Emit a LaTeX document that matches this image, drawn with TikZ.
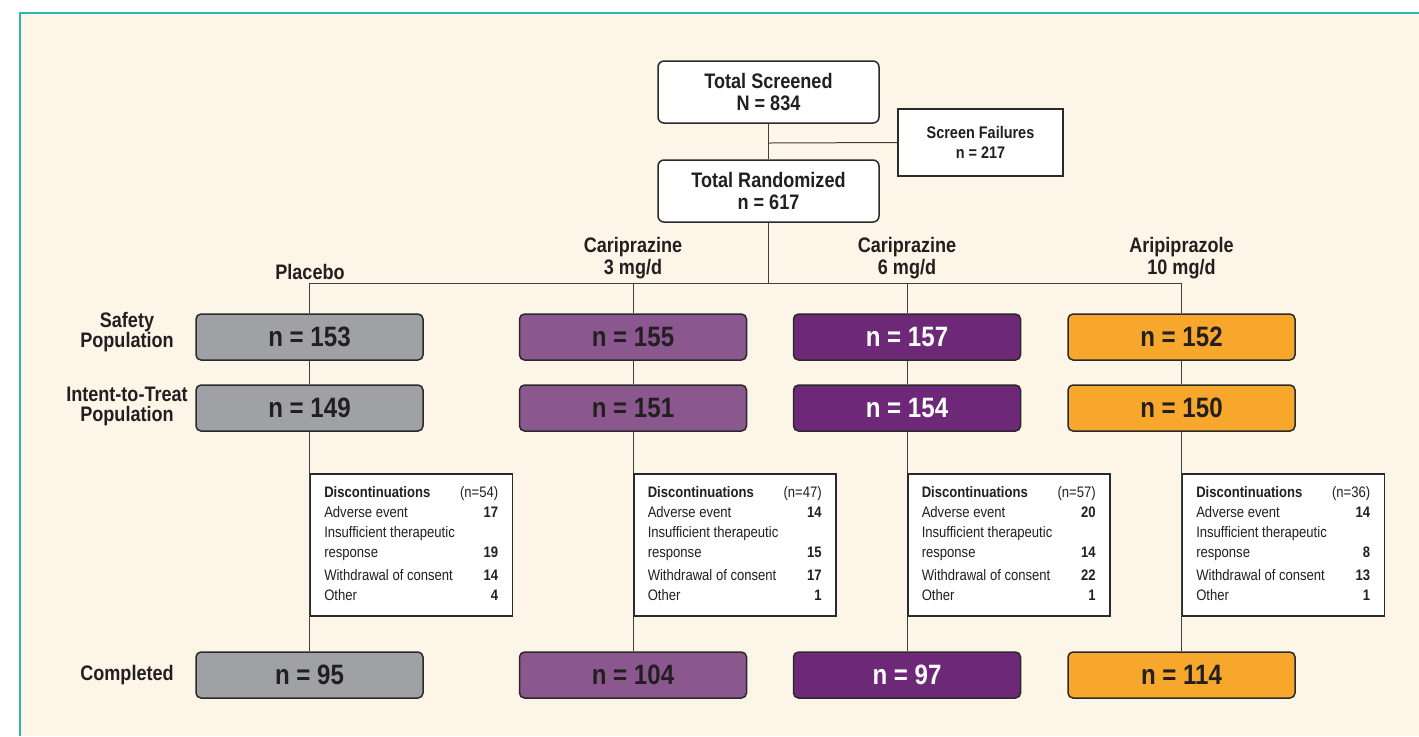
\documentclass[tikz,border=0pt]{standalone}
\usepackage{fontspec}
\setmainfont{Liberation Sans}[FakeStretch=0.86]
\definecolor{ink}{HTML}{231F20}
\definecolor{edge}{HTML}{2B2A2B}
\definecolor{cream}{HTML}{FDF5E8}
\definecolor{frameteal}{HTML}{2BB7B3}
\definecolor{pgray}{HTML}{A0A1A4}
\definecolor{lpurple}{HTML}{8A578E}
\definecolor{dpurple}{HTML}{6D2877}
\definecolor{aorange}{HTML}{F6A72C}

% discontinuation table: total, adverse, insufficient, withdrawal, other
\newcommand{\disctable}[5]{%
  \begin{tabular*}{87pt}{@{}l@{\extracolsep{\fill}}r@{}}
    \textbf{Discontinuations} & (n=#1)\\
    Adverse event & \textbf{#2}\\
    Insufficient therapeutic & \\
    response & \textbf{#3}\\[1.5pt]
    Withdrawal of consent & \textbf{#4}\\
    Other & \textbf{#5}
  \end{tabular*}}

\tikzset{
  topbox/.style={draw=edge, line width=0.75pt, rounded corners=3pt, fill=white,
    minimum width=110.5pt, minimum height=31pt, inner sep=0pt, align=center,
    text=ink, font=\fontsize{10.5}{11}\selectfont\bfseries},
  failbox/.style={draw=edge, line width=0.75pt, fill=white,
    minimum width=82.5pt, minimum height=33.5pt, inner sep=0pt, align=center,
    text=ink, font=\fontsize{8.4}{10}\selectfont\bfseries},
  rowbox/.style={draw=edge, line width=0.75pt, rounded corners=2.5pt,
    minimum width=113.5pt, minimum height=23pt, inner sep=0pt,
    font=\fontsize{14}{14}\selectfont\bfseries},
  placebo/.style={rowbox, fill=pgray, text=ink},
  carlow/.style={rowbox, fill=lpurple, text=ink},
  carhigh/.style={rowbox, fill=dpurple, text=white},
  aripip/.style={rowbox, fill=aorange, text=ink},
  hdr/.style={align=center, text=ink, inner sep=0pt,
    font=\fontsize{10.5}{11}\selectfont\bfseries},
  rowlabel/.style={align=center, text=ink, inner sep=0pt,
    font=\fontsize{10.5}{10}\selectfont\bfseries},
  discbox/.style={draw=edge, line width=0.75pt, fill=white, anchor=north west,
    minimum width=101pt, minimum height=71pt, inner sep=0pt,
    text=ink, font=\fontsize{7.6}{10}\selectfont},
  link/.style={draw=edge!90, line width=0.5pt}
}

\begin{document}
\begin{tikzpicture}[x=0.5pt,y=-0.5pt]
  \useasboundingbox (0,0) rectangle (1419,736);
  % panel
  \fill[cream] (20,13) rectangle (1419,736);
  \draw[frameteal, line width=1pt] (20,736) -- (20,13) -- (1419,13);

  % enrolment
  \node[topbox] (screened) at (768.5,92) {Total Screened\\N = 834};
  \node[topbox] (randomized) at (768.5,191) {Total Randomized\\n = 617};
  \node[failbox] (failures) at (980.5,142.5) {Screen Failures\\n = 217};

  % arm headers
  \node[hdr] (hplacebo) at (310,272) {Placebo};
  \node[hdr] (hcarlow) at (633,258) {Cariprazine\\3 mg/d};
  \node[hdr] (hcarhigh) at (907,258) {Cariprazine\\6 mg/d};
  \node[hdr] (haripip) at (1181.5,258) {Aripiprazole\\10 mg/d};

  % row labels
  \node[rowlabel] (lsafety) at (127,332) {Safety\\Population};
  \node[rowlabel] (litt) at (127,406.5) {Intent-to-Treat\\Population};
  \node[rowlabel] (lcompleted) at (127,675) {Completed};

  % safety population
  \node[placebo] (s1) at (309.5,337) {n = 153};
  \node[carlow]  (s2) at (633,337) {n = 155};
  \node[carhigh] (s3) at (907,337) {n = 157};
  \node[aripip]  (s4) at (1181.5,337) {n = 152};

  % intent-to-treat population
  \node[placebo] (t1) at (309.5,408) {n = 149};
  \node[carlow]  (t2) at (633,408) {n = 151};
  \node[carhigh] (t3) at (907,408) {n = 154};
  \node[aripip]  (t4) at (1181.5,408) {n = 150};

  % completed
  \node[placebo] (c1) at (309.5,675) {n = 95};
  \node[carlow]  (c2) at (633,675) {n = 104};
  \node[carhigh] (c3) at (907,675) {n = 97};
  \node[aripip]  (c4) at (1181.5,675) {n = 114};

  % connectors
  \coordinate (split) at (768.5,143);
  \coordinate (bar) at (768.5,283);
  \draw[link] (screened.south) -- (randomized.north);
  \draw[link] (split) -- (failures.west);
  \draw[link] (randomized.south) -- (bar);
  \draw[link] (bar -| s1.north) -- (bar -| s4.north);
  \foreach \k in {1,2,3,4}{
    \draw[link] (bar -| s\k.north) -- (s\k.north);
    \draw[link] (s\k.south) -- (t\k.north);
    \draw[link] (t\k.south) -- (c\k.north);
  }

  % discontinuations
  \node[discbox] (d1) at (309.5,473) {\disctable{54}{17}{19}{14}{4}};
  \node[discbox] (d2) at (633,473) {\disctable{47}{14}{15}{17}{1}};
  \node[discbox] (d3) at (907,473) {\disctable{57}{20}{14}{22}{1}};
  \node[discbox] (d4) at (1181.5,473) {\disctable{36}{14}{8}{13}{1}};
\end{tikzpicture}
\end{document}
